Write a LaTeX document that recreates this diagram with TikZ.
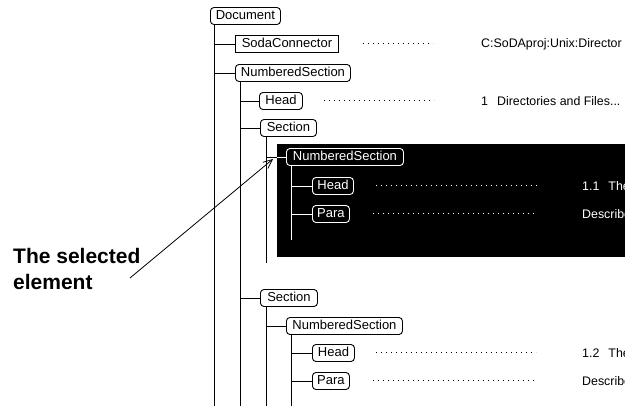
\documentclass[tikz,border=0pt]{standalone}
\usepackage{fontspec}
\setmainfont{Liberation Sans}
\usetikzlibrary{arrows.meta}

\begin{document}
\begin{tikzpicture}[x=1pt,y=-1pt,
  elem/.style={draw, line width=0.9pt, rounded corners=3.5pt, anchor=west,
    inner xsep=0pt, inner ysep=3pt, text height=9.5pt, text depth=1.5pt,
    font=\fontsize{13}{15}\selectfont},
  elemsel/.style={elem, draw=white, text=white},
  tree/.style={line width=0.9pt},
  leaders/.style={line width=1pt, dash pattern=on 1pt off 4pt},
  val/.style={anchor=base west, inner sep=0pt, font=\fontsize{12.4}{14}\selectfont}]

\useasboundingbox (0,0) rectangle (625,406);
\clip (0,0) rectangle (625,406);
\coordinate (floor) at (0,406);

% highlighted (selected) subtree background
\node[fill=black, minimum width=360pt, minimum height=113pt, anchor=north west,
      inner sep=0pt] (sel) at (277,144) {};

% element boxes
\node[elem, minimum width=70pt]  (doc)   at (210,16)  {Document};
\node[elem, sharp corners, minimum width=103pt] (soda) at (235,44) {SodaConnector};
\node[elem, minimum width=115pt] (ns1)   at (235,73)  {NumberedSection};
\node[elem, minimum width=43pt]  (head1) at (259,101) {Head};
\node[elem, minimum width=56pt]  (sec1)  at (260,128) {Section};
\node[elemsel, minimum width=117pt] (ns2)   at (286,157) {NumberedSection};
\node[elemsel, minimum width=41pt]  (head2) at (312,186) {Head};
\node[elemsel, minimum width=37pt]  (para2) at (312,214) {Para};
\node[elem, minimum width=57pt]  (sec2)  at (260,298) {Section};
\node[elem, minimum width=116pt] (ns3)   at (286,326) {NumberedSection};
\node[elem, minimum width=42pt]  (head3) at (312,353) {Head};
\node[elem, minimum width=37pt]  (para3) at (312,381) {Para};

% trunks
\coordinate (t0) at ([xshift=4pt]doc.south west);
\coordinate (t1) at ([xshift=5pt]ns1.south west);
\coordinate (t2) at ([xshift=6pt]sec1.south west);
\coordinate (t3) at ([xshift=5pt]ns2.south west);
\coordinate (t4) at ([xshift=6pt]sec2.south west);
\coordinate (t5) at ([xshift=5pt]ns3.south west);
\coordinate (stop2) at (0,263);
\coordinate (stop3) at (0,240);

\draw[tree] (t0) -- (t0 |- floor);
\draw[tree] (t1) -- (t1 |- floor);
\draw[tree] (t2) -- (t2 |- stop2);
\draw[tree, white] (t3) -- (t3 |- stop3);
\draw[tree] (t4) -- (t4 |- floor);
\draw[tree] (t5) -- (t5 |- floor);

% branches
\draw[tree] (soda.west) -- (soda.west -| t0);
\draw[tree] (ns1.west) -- (ns1.west -| t0);
\draw[tree] (head1.west) -- (head1.west -| t1);
\draw[tree] (sec1.west) -- (sec1.west -| t1);
\draw[tree] (ns2.west -| t2) -- (ns2.west -| sel.west);
\draw[tree, white] (ns2.west -| sel.west) -- (ns2.west);
\draw[tree, white] (head2.west) -- (head2.west -| t3);
\draw[tree, white] (para2.west) -- (para2.west -| t3);
\draw[tree] (sec2.west) -- (sec2.west -| t1);
\draw[tree] (ns3.west) -- (ns3.west -| t4);
\draw[tree] (head3.west) -- (head3.west -| t5);
\draw[tree] (para3.west) -- (para3.west -| t5);

% dotted leaders
\draw[leaders] ([xshift=24pt]soda.east) -- ++(70,0);
\draw[leaders] ([xshift=21pt]head1.east) -- ++(110,0);
\draw[leaders, white] ([xshift=22pt]head2.east) -- ++(162,0);
\draw[leaders, white] ([xshift=23pt]para2.east) -- ++(161,0);
\draw[leaders] ([xshift=21pt]head3.east) -- ++(160,0);
\draw[leaders] ([xshift=23pt]para3.east) -- ++(161,0);

% content column (runs past the right edge and is clipped there)
\node[val] (v1) at (481,48)  {C:SoDAproj:Unix:Director};
\node[val] (v2) at (481,106) {1\hspace{9pt}Directories and Files...};
\node[val, text=white] (v3) at (582,191) {1.1\hspace{9pt}The};
\node[val, text=white] (v4) at (582,219) {Describes};
\node[val] (v5) at (582,358) {1.2\hspace{9pt}The};
\node[val] (v6) at (582,386) {Describes};

% callout
\node[anchor=north west, align=left, inner sep=0pt,
      font=\bfseries\fontsize{21}{26}\selectfont] (lbl) at (13,248)
      {The selected\\element};
\coordinate (tail) at (130,278);
\coordinate (tip) at (273,159);
\draw[line width=0.8pt, -{Straight Barb[length=9pt,width=8pt]}] (tail) -- (tip);
\end{tikzpicture}
\end{document}
